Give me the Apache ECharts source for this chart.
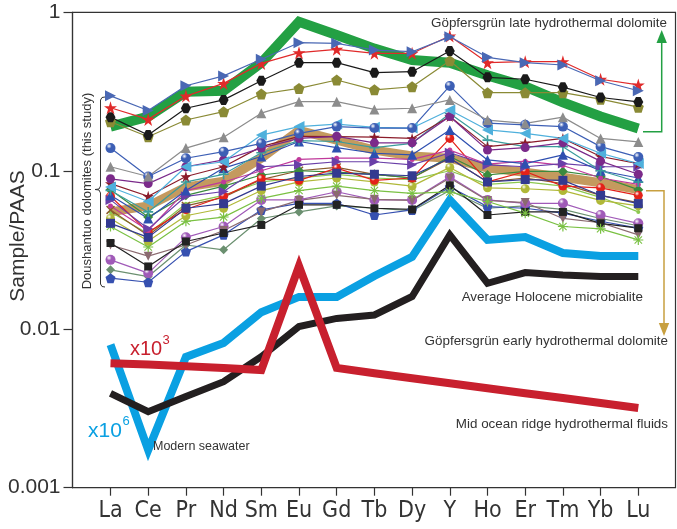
<!DOCTYPE html>
<html><head><meta charset="utf-8">
<script src="https://cdn.jsdelivr.net/npm/echarts@6/dist/echarts.min.js"></script>
<style>html,body{margin:0;padding:0;background:#fff}#c{width:677px;height:529px}</style>
</head><body><div id="c"></div>
<script>
// ---- categories / ticks ----
const categories = ['La','Ce','Pr','Nd','Sm','Eu','Gd','Tb','Dy','Y','Ho','Er','Tm','Yb','Lu'];
const yTickLabels = ['0.001','0.01','0.1','1'];

// ---- reference curves ----
const gopLate   = [0.19,0.22,0.315,0.32,0.48,0.87,0.72,0.59,0.50,0.48,0.40,0.34,0.27,0.22,0.185];
const gopEarly  = [0.055,0.060,0.079,0.086,0.12,0.18,0.156,0.135,0.124,0.12,0.104,0.098,0.091,0.084,0.076];
const seawater  = [0.0080,0.00173,0.00668,0.0082,0.0128,0.016,0.016,0.0217,0.0286,0.0655,0.0366,0.0382,0.0303,0.029,0.029];
const holocene  = [0.00394,0.00302,0.00376,0.00467,0.00671,0.0104,0.0117,0.0123,0.0161,0.0394,0.0195,0.0228,0.022,0.0215,0.0215];
const morFluids = [0.0061,0.0060,0.00584,0.0057,0.00553,0.025,0.0057,0.00527,0.0049,0.00456,0.00424,0.00395,0.00368,0.00342,0.00318];

// ---- Doushantuo dolomite samples ----
const sBlueTri   = [0.297,0.24,0.344,0.397,0.505,0.643,0.637,0.578,0.564,0.70,0.52,0.481,0.465,0.37,0.32];
const sRedStar   = [0.25,0.211,0.296,0.356,0.476,0.556,0.584,0.551,0.551,0.709,0.481,0.488,0.488,0.378,0.348];
const sBlackHex  = [0.218,0.168,0.248,0.28,0.37,0.481,0.481,0.416,0.422,0.57,0.389,0.378,0.337,0.29,0.272];
const sOlivePent = [0.204,0.164,0.209,0.236,0.305,0.331,0.374,0.324,0.339,0.495,0.311,0.311,0.311,0.283,0.252];
const sGrayTri   = [0.106,0.092,0.139,0.163,0.231,0.273,0.273,0.244,0.248,0.28,0.209,0.199,0.218,0.16,0.152];
const sBlueBall  = [0.139,0.092,0.12,0.132,0.149,0.172,0.19,0.186,0.186,0.343,0.2,0.195,0.19,0.142,0.122];
const sCyanTri   = [0.079,0.064,0.106,0.114,0.168,0.19,0.197,0.188,0.186,0.242,0.181,0.172,0.16,0.129,0.111];
const sPurpleDot = [0.089,0.083,0.106,0.117,0.139,0.16,0.165,0.15,0.15,0.22,0.135,0.14,0.15,0.115,0.095];
const sDarkStar  = [0.083,0.069,0.092,0.106,0.142,0.165,0.164,0.163,0.16,0.22,0.142,0.15,0.16,0.123,0.111];
const sTealPlus  = [0.075,0.055,0.085,0.095,0.13,0.155,0.153,0.14,0.149,0.23,0.156,0.142,0.142,0.1,0.085];
const sBlueUp    = [0.07,0.05,0.075,0.104,0.123,0.153,0.14,0.129,0.126,0.181,0.117,0.111,0.126,0.1,0.09];
const sPurpleTri = [0.0655,0.043,0.069,0.074,0.106,0.109,0.114,0.114,0.109,0.13,0.109,0.106,0.111,0.106,0.106];
const sNavySq    = [0.0466,0.038,0.058,0.062,0.08,0.092,0.0965,0.095,0.093,0.12,0.085,0.088,0.087,0.07,0.062];
const sRedDot    = [0.069,0.041,0.057,0.069,0.089,0.087,0.104,0.087,0.09,0.16,0.085,0.099,0.08,0.078,0.07];
const sGreenDia  = [0.076,0.051,0.07,0.08,0.094,0.1,0.098,0.095,0.09,0.123,0.094,0.099,0.099,0.092,0.076];
const sGreenAst  = [0.0445,0.033,0.048,0.051,0.067,0.075,0.08,0.075,0.072,0.0735,0.064,0.054,0.0445,0.043,0.0366];
const sBrownX    = [0.0566,0.039,0.06,0.068,0.088,0.1,0.105,0.095,0.09,0.12,0.085,0.09,0.083,0.07,0.063];
const sBlackSq   = [0.035,0.0249,0.0358,0.0405,0.0455,0.061,0.061,0.058,0.057,0.081,0.0526,0.055,0.055,0.0466,0.0434];
const sMauveDown = [0.034,0.0289,0.034,0.042,0.055,0.065,0.07,0.066,0.065,0.09,0.065,0.063,0.05,0.047,0.0394];
const sVioletBall= [0.0274,0.0226,0.038,0.0445,0.0655,0.0655,0.0737,0.0655,0.0655,0.0917,0.0655,0.0623,0.0623,0.0526,0.0466];
const sSageDia   = [0.0237,0.0215,0.034,0.0317,0.05,0.055,0.06,0.058,0.056,0.075,0.058,0.06,0.057,0.05,0.045];
const sBluePent  = [0.021,0.0198,0.0309,0.0394,0.0566,0.0622,0.0622,0.0526,0.0566,0.079,0.0594,0.058,0.054,0.048,0.0434];
const sYellowDot = [0.05,0.036,0.052,0.058,0.075,0.085,0.09,0.085,0.08,0.105,0.078,0.077,0.075,0.065,0.06];
const sMagenta   = [0.06,0.042,0.075,0.085,0.1,0.118,0.12,0.12,0.118,0.135,0.11,0.115,0.108,0.09,0.082];
const sLightGrn  = [0.055,0.04,0.062,0.07,0.085,0.09,0.095,0.09,0.088,0.1,0.082,0.085,0.08,0.068,0.055];

// ---- symbols ----
const SYM = {
  star:'path://M50,0 L61,35 L98,35 L68,57 L79,91 L50,70 L21,91 L32,57 L2,35 L39,35 Z',
  pent:'path://M50,0 L98,35 L79,91 L21,91 L2,35 Z',
  hex:'path://M27,0 L73,0 L100,50 L73,100 L27,100 L0,50 Z',
  right:'path://M0,0 L100,50 L0,100 Z',
  left:'path://M100,0 L0,50 L100,100 Z',
  down:'path://M0,0 L100,0 L50,100 Z',
  x:'path://M12,0 L50,38 L88,0 L100,12 L62,50 L100,88 L88,100 L50,62 L12,100 L0,88 L38,50 L0,12 Z',
  plus:'path://M42,0 L58,0 L58,42 L100,42 L100,58 L58,58 L58,100 L42,100 L42,58 L0,58 L0,42 L42,42 Z',
  ast:'path://M44,0 L56,0 L56,38 L83,10 L91,18 L63,45 L100,45 L100,55 L63,55 L91,82 L83,90 L56,62 L56,100 L44,100 L44,62 L17,90 L9,82 L37,55 L0,55 L0,45 L37,45 L9,18 L17,10 L44,38 Z'
};

function ball(c){
  return new echarts.graphic.RadialGradient(0.35,0.3,0.75,[{offset:0,color:'#ffffff'},{offset:0.35,color:c},{offset:1,color:c}]);
}
function sample(data,color,symbol,size,isBall){
  return {type:'line',xAxisIndex:1,yAxisIndex:1,data:data,symbol:symbol,symbolSize:size,
    lineStyle:{color:color,width:1.2},itemStyle:{color:isBall?ball(color):color},z:3,silent:true};
}
function thick(data,color,width,z){
  return {type:'line',xAxisIndex:1,yAxisIndex:1,data:data,symbol:'none',
    lineStyle:{color:color,width:width,join:'miter',miterLimit:8,cap:'butt'},z:z,silent:true};
}

const NARROW = "'Liberation Sans Narrow','Arial Narrow','DejaVu Sans Condensed',sans-serif";
const SANS = "'Liberation Sans',Arial,sans-serif";

const series = [
  thick(seawater,'#0aa0e2',8,1),
  thick(holocene,'#231f20',7,1),
  thick(morFluids,'#c8202e',8,1),
  thick(gopEarly,'#c49a5e',9,1),
  thick(gopLate,'#23a043',10,2),
  sample(sSageDia,'#6b9070','diamond',9),
  sample(sBluePent,'#3650b0',SYM.pent,10),
  sample(sVioletBall,'#a05ab8','circle',10,true),
  sample(sMauveDown,'#8b6a70',SYM.down,9),
  sample(sBlackSq,'#222222','rect',8),
  sample(sGreenAst,'#7ac143',SYM.ast,10),
  sample(sLightGrn,'#8cc850','circle',4),
  sample(sYellowDot,'#b0b838','circle',9,true),
  sample(sBrownX,'#8b5a2b',SYM.x,9),
  sample(sGreenDia,'#3a8a3e','diamond',10),
  sample(sRedDot,'#e32119','circle',9,true),
  sample(sNavySq,'#333a90','rect',9),
  sample(sMagenta,'#c0399b','circle',5),
  sample(sPurpleTri,'#6a3fa8',SYM.right,10),
  sample(sBlueUp,'#2e4fb0','triangle',10),
  sample(sTealPlus,'#3a9c9c',SYM.plus,10),
  sample(sDarkStar,'#8b1c2a',SYM.star,11),
  sample(sPurpleDot,'#7b2a8a','circle',9),
  sample(sCyanTri,'#4fb0dc',SYM.left,11),
  sample(sBlueBall,'#3d5fb5','circle',10,true),
  sample(sGrayTri,'#8c8c8c','triangle',10),
  sample(sOlivePent,'#8a8a35',SYM.pent,11),
  sample(sBlackHex,'#1a1a1a',SYM.hex,10),
  sample(sRedStar,'#e02a2a',SYM.star,13),
  sample(sBlueTri,'#4a68b4',SYM.right,11)
];

function txt(x,y,t,size,fill,align,font){
  return {type:'text',x:x,y:y,z:10,silent:true,style:{text:t,fill:fill||'#333',font:(size)+'px '+(font||SANS),textAlign:align||'left',textVerticalAlign:'middle'}};
}

const graphics = [
  txt(667,23,'Göpfersgrün late hydrothermal dolomite',13.4,'#333','right'),
  txt(643,297,'Average Holocene microbialite',13.4,'#333','right'),
  txt(668,341,'Göpfersgrün early hydrothermal dolomite',13.4,'#333','right'),
  txt(668,424,'Mid ocean ridge hydrothermal fluids',13.4,'#333','right'),
  txt(153,447,'Modern seawater',12.5,'#333','left'),
  txt(130,349,'x10',20,'#c8202e','left'),
  txt(162.5,340,'3',13,'#c8202e','left'),
  txt(88,431,'x10',21,'#0aa0e2','left'),
  txt(122.5,421,'6',13,'#0aa0e2','left'),
  {type:'text',x:18,y:236,rotation:Math.PI/2,silent:true,z:10,
    style:{text:'Sample/PAAS',fill:'#333',font:'21px '+SANS,textAlign:'center',textVerticalAlign:'middle'}},
  {type:'text',x:87,y:191,rotation:Math.PI/2,silent:true,z:10,
    style:{text:'Doushantuo dolomites (this study)',fill:'#333',font:'13px '+SANS,textAlign:'center',textVerticalAlign:'middle'}},
  // curly bracket
  {type:'polyline',silent:true,z:10,shape:{points:[[105,97],[102,97.5],[100.5,100],[100.5,186],[99,189],[95,189.5],[99,190],[100.5,193],[100.5,284],[102,286.5],[105,287]]},
    style:{stroke:'#333',lineWidth:1,fill:null}},
  // green arrow
  {type:'polyline',silent:true,z:10,shape:{points:[[643,131.7],[661.7,131.7],[661.7,42]]},style:{stroke:'#23a043',lineWidth:1.5,fill:null}},
  {type:'polygon',silent:true,z:10,shape:{points:[[661.7,30],[656.5,43],[666.9,43]]},style:{fill:'#23a043'}},
  // tan arrow
  {type:'polyline',silent:true,z:10,shape:{points:[[646,190.7],[664,190.7],[664,324]]},style:{stroke:'#c8a040',lineWidth:1.5,fill:null}},
  {type:'polygon',silent:true,z:10,shape:{points:[[664,336],[658.8,323],[669.2,323]]},style:{fill:'#c8a040'}}
];

const chart = echarts.init(document.getElementById('c'),null,{renderer:'canvas'});
chart.setOption({
  animation:false,
  backgroundColor:'#fff',
  grid:[
    {left:72.5,right:1.5,top:12.3,bottom:41.3,show:true,borderColor:'#333',borderWidth:1.2,backgroundColor:'transparent'},
    {left:91.65,width:565.5,top:12.3,bottom:41.3}
  ],
  xAxis:[
    {type:'value',gridIndex:0,show:false,min:0,max:1},
    {type:'category',gridIndex:1,data:categories,boundaryGap:true,
      axisLine:{show:false},
      axisTick:{show:true,alignWithLabel:true,length:8,lineStyle:{color:'#333',width:1.2}},
      axisLabel:{fontSize:23,fontFamily:NARROW,color:'#333',margin:12,interval:0}}
  ],
  yAxis:[
    {type:'log',logBase:10,gridIndex:0,min:0.001,max:1,
      axisLine:{show:true,lineStyle:{color:'#333',width:1.2}},
      axisTick:{show:true,length:9,lineStyle:{color:'#333',width:1.2}},
      splitLine:{show:false},minorTick:{show:false},
      axisLabel:{fontSize:21,fontFamily:SANS,color:'#333',margin:12,
        formatter:function(v){const e=Math.round(Math.log10(v));return yTickLabels[e+3];}}},
    {type:'log',logBase:10,gridIndex:1,min:0.001,max:1,show:false,splitLine:{show:false}}
  ],
  series:series,
  graphic:graphics
});
</script></body></html>
